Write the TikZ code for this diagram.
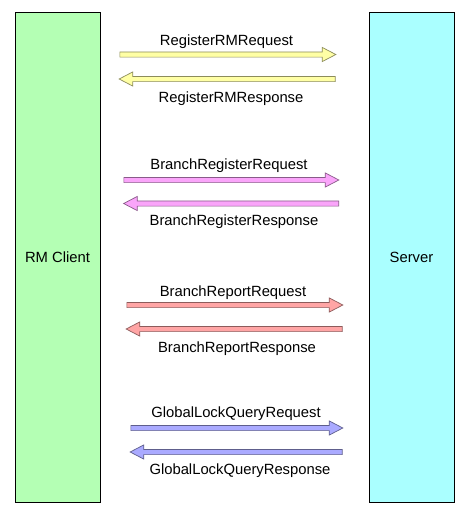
\documentclass[tikz,border=0pt]{standalone}
\usepackage{fontspec}
\setmainfont{Liberation Sans}
\usetikzlibrary{shapes.arrows}

\begin{document}
\begin{tikzpicture}[x=1pt, y=-1pt,
    party/.style ={rectangle, draw, thick, minimum width=85pt, minimum height=490pt,
                   font=\fontsize{14.8}{17}\selectfont},
    message/.style ={single arrow, draw=#1!55!black, fill=#1, line width=0.7pt,
                   anchor=tail, inner xsep=0pt, inner ysep=2.25pt, minimum width=13.5pt,
                   single arrow head extend=4.5pt, single arrow tip angle=55},
    back/.style ={shape border rotate=180},
    msgtext/.style ={anchor=base, font=\fontsize{14.8}{17}\selectfont}]
   \useasboundingbox (0,0) rectangle (472,515);
   \definecolor{regcol}{RGB}{255,255,165}
   \definecolor{brcol}{RGB}{250,165,250}
   \definecolor{repcol}{RGB}{255,165,165}
   \definecolor{lockcol}{RGB}{170,170,255}

   \node[party, fill={rgb,255:red,180;green,255;blue,180}] (client) at (57.5,257) {RM Client};
   \node[party, fill={rgb,255:red,170;green,255;blue,255}] (server) at (411.5,257.5) {Server};

   \node[message=regcol, minimum height=216pt] (regreq) at (119.5,54.5) {};
   \node[message=regcol, back, minimum height=216pt] (regresp) at (335.5,79) {};
   \node[message=brcol, minimum height=215pt] (brreq) at (123.5,180) {};
   \node[message=brcol, back, minimum height=215pt] (brresp) at (339,203.5) {};
   \node[message=repcol, minimum height=216pt] (repreq) at (126.5,305) {};
   \node[message=repcol, back, minimum height=216pt] (represp) at (342.5,329) {};
   \node[message=lockcol, minimum height=212pt] (lockreq) at (130.5,428) {};
   \node[message=lockcol, back, minimum height=212pt] (lockresp) at (342.5,452) {};

   \node[msgtext] (regreqtext) at (226.5,45.5) {RegisterRMRequest};
   \node[msgtext] (regresptext) at (231,102) {RegisterRMResponse};
   \node[msgtext] (brreqtext) at (229,169) {BranchRegisterRequest};
   \node[msgtext] (bresptext) at (234,225.5) {BranchRegisterResponse};
   \node[msgtext] (repreqtext) at (233,296) {BranchReportRequest};
   \node[msgtext] (represptext) at (237,352) {BranchReportResponse};
   \node[msgtext] (lockreqtext) at (236,417) {GlobalLockQueryRequest};
   \node[msgtext] (lockresptext) at (240,474) {GlobalLockQueryResponse};

 \end{tikzpicture}
\end{document}
